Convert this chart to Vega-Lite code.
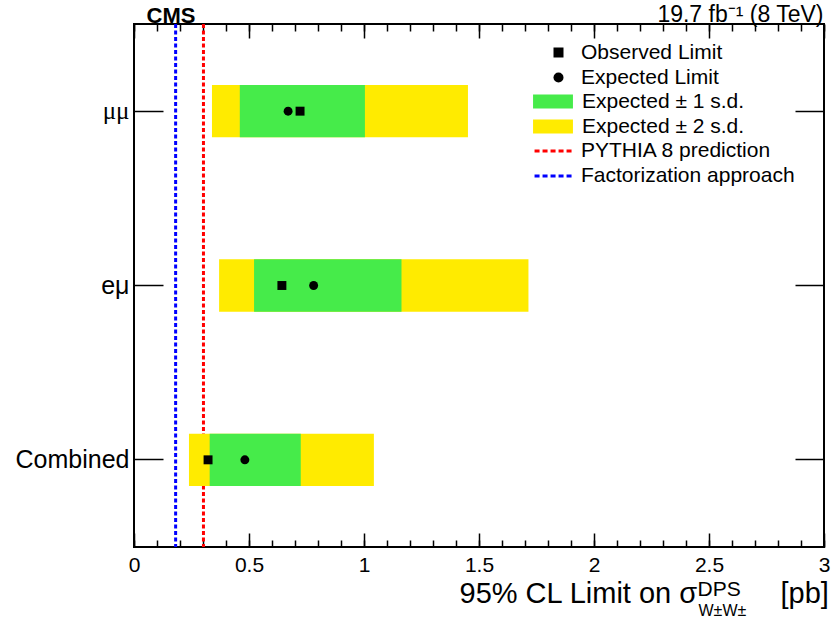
{
  "$schema": "https://vega.github.io/schema/vega-lite/v6.json",
  "width": 690,
  "height": 523,
  "autosize": {"type": "none"},
  "padding": {"left": 134, "top": 24, "right": 7, "bottom": 76},
  "background": "white",
  "config": {
    "font": "Liberation Sans",
    "view": {"stroke": "black", "strokeWidth": 2},
    "axis": {"domain": false, "grid": false, "tickColor": "black", "tickWidth": 1.5, "labelColor": "black", "titleColor": "black", "titleFont": "Liberation Sans", "titleFontWeight": "normal", "labelFont": "Liberation Sans"},
    "legend": {"labelFont": "Liberation Sans", "labelColor": "black", "padding": 0, "rowPadding": 3, "offset": 0, "labelFontSize": 21, "labelLimit": 400, "title": null}
  },
  "datasets": {
    "bands": [
      {"channel": "μμ", "band": "Expected ± 2 s.d.", "lo": 0.339, "hi": 1.452},
      {"channel": "eμ", "band": "Expected ± 2 s.d.", "lo": 0.37, "hi": 1.715},
      {"channel": "Combined", "band": "Expected ± 2 s.d.", "lo": 0.239, "hi": 1.043},
      {"channel": "μμ", "band": "Expected ± 1 s.d.", "lo": 0.46, "hi": 1.004},
      {"channel": "eμ", "band": "Expected ± 1 s.d.", "lo": 0.522, "hi": 1.163},
      {"channel": "Combined", "band": "Expected ± 1 s.d.", "lo": 0.329, "hi": 0.725}
    ],
    "limits": [
      {"channel": "μμ", "type": "Observed Limit", "value": 0.722},
      {"channel": "eμ", "type": "Observed Limit", "value": 0.643},
      {"channel": "Combined", "type": "Observed Limit", "value": 0.322},
      {"channel": "μμ", "type": "Expected Limit", "value": 0.67},
      {"channel": "eμ", "type": "Expected Limit", "value": 0.781},
      {"channel": "Combined", "type": "Expected Limit", "value": 0.482}
    ],
    "preds": [
      {"name": "PYTHIA 8 prediction", "value": 0.302},
      {"name": "Factorization approach", "value": 0.181}
    ]
  },
  "resolve": {"axis": {"x": "independent", "y": "independent"}},
  "layer": [
    {
      "data": {"name": "preds"},
      "transform": [{"filter": "datum.name === 'PYTHIA 8 prediction'"}],
      "mark": {"type": "rule", "strokeDash": [4, 2.5], "strokeWidth": 3},
      "encoding": {
        "x": {"field": "value", "type": "quantitative", "scale": {"domain": [0, 3], "nice": false, "zero": false},
          "axis": {"orient": "bottom", "values": [0, 0.5, 1, 1.5, 2, 2.5, 3], "format": "~g", "tickSize": -14, "labelPadding": 21, "labelFontSize": 21, "labelFlush": false, "labelOverlap": false,
            "title": "95% CL Limit on σ", "titleX": 325, "titleY": 55, "titleAlign": "left", "titleAnchor": "start", "titleBaseline": "alphabetic", "titleFontSize": 29}},
        "stroke": {"field": "name", "type": "nominal", "scale": {"domain": ["PYTHIA 8 prediction", "Factorization approach"], "range": ["#ff0000", "#0000ff"]},
          "legend": {"orient": "none", "legendX": 408.5, "legendY": 115, "symbolType": "M-1.9,0H1.9", "symbolSize": 441, "symbolStrokeWidth": 3, "symbolDash": [5, 3], "symbolFillColor": "transparent", "labelOffset": 14.5}}
      }
    },
    {
      "data": {"name": "preds"},
      "transform": [{"filter": "datum.name === 'Factorization approach'"}],
      "mark": {"type": "rule", "strokeDash": [4, 2.5], "strokeWidth": 3},
      "encoding": {
        "x": {"field": "value", "type": "quantitative", "scale": {"domain": [0, 3], "nice": false, "zero": false},
          "axis": {"orient": "bottom", "values": [0, 0.1, 0.2, 0.3, 0.4, 0.5, 0.6, 0.7, 0.8, 0.9, 1, 1.1, 1.2, 1.3, 1.4, 1.5, 1.6, 1.7, 1.8, 1.9, 2, 2.1, 2.2, 2.3, 2.4, 2.5, 2.6, 2.7, 2.8, 2.9, 3], "labels": false, "tickSize": -7,
            "title": "DPS", "titleX": 563, "titleY": 48, "titleAlign": "left", "titleAnchor": "start", "titleBaseline": "alphabetic", "titleFontSize": 21}},
        "stroke": {"field": "name", "type": "nominal", "scale": {"domain": ["PYTHIA 8 prediction", "Factorization approach"], "range": ["#ff0000", "#0000ff"]},
          "legend": {"orient": "none", "legendX": 408.5, "legendY": 115, "symbolType": "M-1.9,0H1.9", "symbolSize": 441, "symbolStrokeWidth": 3, "symbolDash": [5, 3], "symbolFillColor": "transparent", "labelOffset": 14.5}}
      }
    },
    {
      "data": {"name": "bands"},
      "transform": [{"filter": "datum.band === 'Expected ± 2 s.d.'"}],
      "mark": {"type": "bar"},
      "encoding": {
        "x": {"field": "lo", "type": "quantitative", "scale": {"domain": [0, 3], "nice": false, "zero": false},
          "axis": {"orient": "top", "values": [0, 0.5, 1, 1.5, 2, 2.5, 3], "labels": false, "tickSize": -14,
            "title": "19.7 fb⁻¹ (8 TeV)", "titleX": 689, "titleY": -3, "titleAlign": "right", "titleAnchor": "end", "titleBaseline": "alphabetic", "titleFontSize": 23}},
        "x2": {"field": "hi"},
        "y": {"field": "channel", "type": "nominal", "scale": {"type": "band", "domain": ["μμ", "eμ", "Combined"], "paddingInner": 0.7, "paddingOuter": 0.35},
          "axis": {"orient": "left", "title": null, "tickSize": -29, "bandPosition": 0.5, "labelPadding": 34, "labelFontSize": 25, "labelBaseline": "middle",
            "labelFont": {"condition": {"test": "datum.value === 'μμ'", "value": "Liberation Serif"}, "value": "Liberation Sans"}}},
        "fill": {"field": "band", "type": "nominal", "scale": {"domain": ["Expected ± 1 s.d.", "Expected ± 2 s.d."], "range": ["#46eb4a", "#ffeb00"]},
          "legend": {"orient": "none", "legendX": 408.5, "legendY": 67, "symbolType": "M-1.9,-0.67H1.9V0.67H-1.9Z", "symbolSize": 441, "symbolStrokeWidth": 0, "labelOffset": 18.5}}
      }
    },
    {
      "data": {"name": "bands"},
      "transform": [{"filter": "datum.band === 'Expected ± 1 s.d.'"}],
      "mark": {"type": "bar"},
      "encoding": {
        "x": {"field": "lo", "type": "quantitative", "scale": {"domain": [0, 3], "nice": false, "zero": false},
          "axis": {"orient": "top", "values": [0, 0.1, 0.2, 0.3, 0.4, 0.5, 0.6, 0.7, 0.8, 0.9, 1, 1.1, 1.2, 1.3, 1.4, 1.5, 1.6, 1.7, 1.8, 1.9, 2, 2.1, 2.2, 2.3, 2.4, 2.5, 2.6, 2.7, 2.8, 2.9, 3], "labels": false, "tickSize": -7,
            "title": "CMS", "titleX": 12, "titleY": -2, "titleAlign": "left", "titleAnchor": "start", "titleBaseline": "alphabetic", "titleFontSize": 22, "titleFontWeight": "bold"}},
        "x2": {"field": "hi"},
        "y": {"field": "channel", "type": "nominal", "scale": {"type": "band", "domain": ["μμ", "eμ", "Combined"], "paddingInner": 0.7, "paddingOuter": 0.35},
          "axis": {"orient": "right", "title": null, "tickSize": -29, "bandPosition": 0.5, "labels": false}},
        "fill": {"field": "band", "type": "nominal", "scale": {"domain": ["Expected ± 1 s.d.", "Expected ± 2 s.d."], "range": ["#46eb4a", "#ffeb00"]},
          "legend": {"orient": "none", "legendX": 408.5, "legendY": 67, "symbolType": "M-1.9,-0.67H1.9V0.67H-1.9Z", "symbolSize": 441, "symbolStrokeWidth": 0, "labelOffset": 18.5}}
      }
    },
    {
      "data": {"name": "limits"},
      "transform": [{"filter": "datum.type === 'Observed Limit'"}],
      "mark": {"type": "point", "filled": true, "color": "black", "size": 80, "opacity": 1},
      "encoding": {
        "x": {"field": "value", "type": "quantitative", "scale": {"domain": [0, 3], "nice": false, "zero": false},
          "axis": {"orient": "bottom", "ticks": false, "labels": false,
            "title": "W±W±", "titleX": 564, "titleY": 68, "titleAlign": "left", "titleAnchor": "start", "titleBaseline": "alphabetic", "titleFontSize": 16}},
        "y": {"field": "channel", "type": "nominal", "scale": {"type": "band", "domain": ["μμ", "eμ", "Combined"], "paddingInner": 0.7, "paddingOuter": 0.35}, "axis": null},
        "shape": {"field": "type", "type": "nominal", "scale": {"domain": ["Observed Limit", "Expected Limit"], "range": ["square", "circle"]},
          "legend": {"orient": "none", "legendX": 414, "legendY": 18, "labelOffset": 12}}
      }
    },
    {
      "data": {"name": "limits"},
      "transform": [{"filter": "datum.type === 'Expected Limit'"}],
      "mark": {"type": "point", "filled": true, "color": "black", "size": 80, "opacity": 1},
      "encoding": {
        "x": {"field": "value", "type": "quantitative", "scale": {"domain": [0, 3], "nice": false, "zero": false},
          "axis": {"orient": "bottom", "ticks": false, "labels": false,
            "title": "[pb]", "titleX": 646, "titleY": 55, "titleAlign": "left", "titleAnchor": "start", "titleBaseline": "alphabetic", "titleFontSize": 29}},
        "y": {"field": "channel", "type": "nominal", "scale": {"type": "band", "domain": ["μμ", "eμ", "Combined"], "paddingInner": 0.7, "paddingOuter": 0.35}, "axis": null},
        "shape": {"field": "type", "type": "nominal", "scale": {"domain": ["Observed Limit", "Expected Limit"], "range": ["square", "circle"]},
          "legend": {"orient": "none", "legendX": 414, "legendY": 18, "labelOffset": 12}}
      }
    }
  ]
}
